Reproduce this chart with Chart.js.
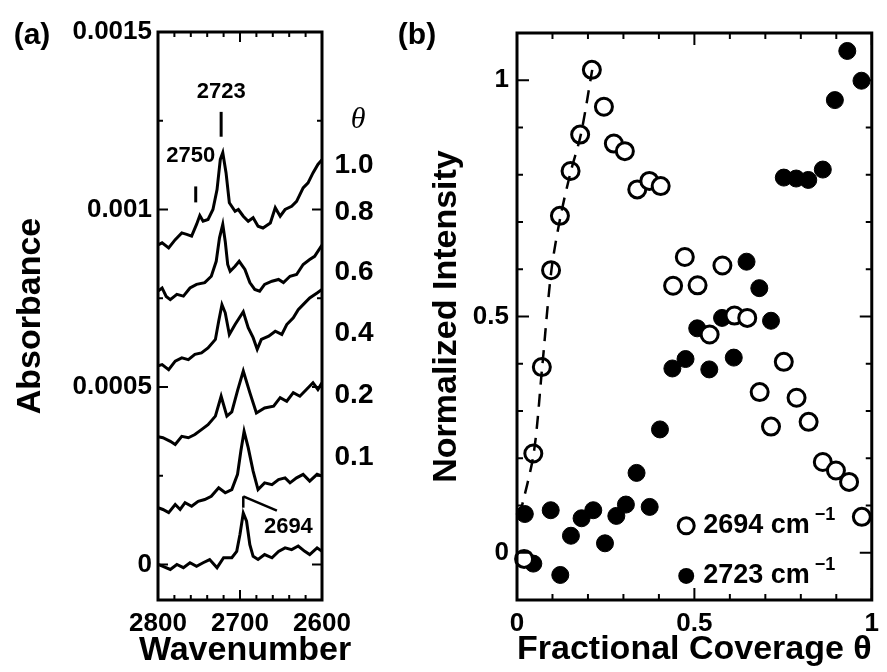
<!DOCTYPE html>
<html>
<head>
<meta charset="utf-8">
<script src="https://cdn.jsdelivr.net/npm/chart.js@4.4.0/dist/chart.umd.min.js"></script>
<style>
  html, body { margin: 0; padding: 0; background: #fff; }
  #wrap { position: relative; width: 887px; height: 672px; overflow: hidden; }
  canvas { position: absolute; top: 0; }
  #chartA { left: 0; }
  #chartB { left: 390px; }
</style>
</head>
<body>
<div id="wrap">
  <canvas id="chartA" width="400" height="672"></canvas>
  <canvas id="chartB" width="497" height="672"></canvas>
</div>
<script>
const FONT = "'Liberation Sans', Arial, sans-serif";

// (a) spectra: [wavenumber, absorbance in units of 1e-4]
const trace10 = [[2800, 9.0], [2795, 9.06], [2787, 8.92], [2779, 9.15], [2771, 9.34], [2765, 9.3], [2759, 9.25], [2753, 9.58], [2749, 9.83], [2745, 9.67], [2739, 9.72], [2733, 10.0], [2728, 10.56], [2724, 11.41], [2721, 11.6], [2717, 11.03], [2713, 10.19], [2706, 9.95], [2702, 10.0], [2696, 9.81], [2690, 9.67], [2684, 9.77], [2678, 9.53], [2672, 9.48], [2663, 9.62], [2657, 10.05], [2651, 9.81], [2645, 10.0], [2637, 10.09], [2631, 10.23], [2623, 10.61], [2617, 10.75], [2611, 11.03], [2605, 11.27], [2600, 11.4]];
const trace08 = [[2800, 7.7], [2795, 7.79], [2790, 7.55], [2785, 7.46], [2777, 7.61], [2769, 7.56], [2761, 7.79], [2753, 7.89], [2743, 7.94], [2735, 8.12], [2729, 8.54], [2725, 9.2], [2721, 9.58], [2718, 9.1], [2715, 8.45], [2712, 8.26], [2706, 8.4], [2701, 8.54], [2694, 8.31], [2688, 7.94], [2682, 7.75], [2676, 7.7], [2670, 7.89], [2661, 7.98], [2653, 8.03], [2647, 7.94], [2639, 8.12], [2631, 8.17], [2623, 8.45], [2615, 8.59], [2609, 8.68], [2600, 9.0]];
const trace06 = [[2800, 5.6], [2795, 5.63], [2787, 5.49], [2779, 5.73], [2771, 5.82], [2763, 5.77], [2755, 5.92], [2747, 5.96], [2739, 6.1], [2730, 6.34], [2726, 6.85], [2722, 7.32], [2718, 7.09], [2713, 6.48], [2706, 6.76], [2696, 7.12], [2690, 6.67], [2684, 6.39], [2679, 6.06], [2674, 6.34], [2665, 6.43], [2657, 6.57], [2649, 6.48], [2643, 6.76], [2635, 6.95], [2629, 7.18], [2623, 7.32], [2615, 7.51], [2606, 7.65], [2600, 7.75]];
const trace04 = [[2800, 3.6], [2794, 3.57], [2785, 3.47], [2779, 3.38], [2771, 3.61], [2763, 3.57], [2755, 3.66], [2747, 3.8], [2739, 3.94], [2730, 4.18], [2723, 4.74], [2716, 4.18], [2710, 4.3], [2703, 4.9], [2696, 5.45], [2688, 4.84], [2680, 4.27], [2670, 4.41], [2659, 4.46], [2651, 4.7], [2643, 4.6], [2635, 4.84], [2627, 4.74], [2619, 4.93], [2611, 5.12], [2605, 4.93], [2600, 5.12]];
const trace02 = [[2800, 1.6], [2794, 1.55], [2787, 1.46], [2779, 1.69], [2773, 1.55], [2767, 1.74], [2759, 1.64], [2751, 1.78], [2743, 1.83], [2735, 1.92], [2726, 2.16], [2718, 2.02], [2710, 2.11], [2703, 2.54], [2699, 3.19], [2695, 3.75], [2690, 3.29], [2684, 2.63], [2678, 2.11], [2670, 2.3], [2661, 2.25], [2653, 2.39], [2645, 2.44], [2639, 2.3], [2631, 2.44], [2623, 2.54], [2615, 2.35], [2606, 2.54], [2600, 2.49]];
const trace01 = [[2800, 0.0], [2794, -0.05], [2785, -0.14], [2777, 0.0], [2769, -0.09], [2761, 0.05], [2753, -0.05], [2745, 0.05], [2737, 0.14], [2728, -0.09], [2720, 0.19], [2710, 0.19], [2704, 0.37], [2700, 0.85], [2696, 1.45], [2692, 1.22], [2688, 0.56], [2684, 0.23], [2678, 0.14], [2670, 0.28], [2661, 0.19], [2653, 0.37], [2645, 0.47], [2637, 0.42], [2629, 0.52], [2621, 0.37], [2615, 0.28], [2606, 0.47], [2600, 0.37]];
const coverageLabels = ["1.0", "0.8", "0.6", "0.4", "0.2", "0.1"];

const wnTickValues = [2600, 2620, 2640, 2660, 2680, 2700, 2720, 2740, 2760, 2780, 2800];
const wnTickLabels = { 2600: "2600", 2700: "2700", 2800: "2800" };
const absTickValues = [0, 2.5, 5, 7.5, 10, 12.5, 15];
const absTickLabels = { 0: "0", 5: "0.0005", 10: "0.001", 15: "0.0015" };

// (b) normalized intensity vs coverage
const coverage2694 = [0.02, 0.046, 0.07, 0.096, 0.121, 0.151, 0.178, 0.211, 0.245, 0.273, 0.304, 0.339, 0.373, 0.405, 0.44, 0.473, 0.509, 0.543, 0.579, 0.613, 0.649, 0.684, 0.716, 0.752, 0.788, 0.822, 0.862, 0.899, 0.936, 0.972];
const intensity2694 = [-0.013, 0.21, 0.393, 0.598, 0.713, 0.808, 0.885, 1.022, 0.944, 0.866, 0.85, 0.769, 0.787, 0.776, 0.565, 0.626, 0.566, 0.462, 0.608, 0.502, 0.497, 0.34, 0.267, 0.404, 0.328, 0.277, 0.192, 0.174, 0.15, 0.076];
const coverage2723 = [0.022, 0.046, 0.095, 0.122, 0.152, 0.182, 0.215, 0.248, 0.28, 0.307, 0.337, 0.374, 0.403, 0.438, 0.475, 0.508, 0.542, 0.578, 0.611, 0.647, 0.683, 0.716, 0.752, 0.787, 0.821, 0.862, 0.896, 0.931, 0.971];
const intensity2723 = [0.082, -0.023, 0.09, -0.047, 0.036, 0.073, 0.09, 0.02, 0.078, 0.102, 0.169, 0.097, 0.261, 0.39, 0.41, 0.475, 0.388, 0.497, 0.413, 0.616, 0.56, 0.491, 0.794, 0.792, 0.789, 0.811, 0.958, 1.062, 0.999];
const guideCoverage = [0.008, 0.047, 0.071, 0.097, 0.123, 0.152, 0.18, 0.212];
const guideIntensity = [0.08, 0.21, 0.393, 0.598, 0.713, 0.808, 0.885, 1.022];
const legendLabels = ["2694 cm", "2723 cm"];

const thetaTickValues = [0, 0.1, 0.2, 0.3, 0.4, 0.5, 0.6, 0.7, 0.8, 0.9, 1];
const thetaTickLabels = { 0: "0", 0.5: "0.5", 1: "1" };
const intensityTickValues = [0, 0.1, 0.2, 0.3, 0.4, 0.5, 0.6, 0.7, 0.8, 0.9, 1];
const intensityTickLabels = { 0: "0", 0.5: "0.5", 1: "1" };

// inward tick marks on all four sides plus the heavy frame
const frameTicks = {
  id: "frameTicks",
  afterDatasetsDraw(chart, args, opts) {
    const { ctx, chartArea: a, scales } = chart;
    const line = (x1, y1, x2, y2) => { ctx.beginPath(); ctx.moveTo(x1, y1); ctx.lineTo(x2, y2); ctx.stroke(); };
    ctx.save();
    ctx.strokeStyle = "#000";
    ctx.lineWidth = 2;
    scales.x.ticks.forEach(t => {
      const px = scales.x.getPixelForValue(t.value);
      const len = opts.xMajor.includes(t.value) ? opts.major : opts.minor;
      line(px, a.bottom, px, a.bottom - len);
      line(px, a.top, px, a.top + len);
    });
    scales.y.ticks.forEach(t => {
      const py = scales.y.getPixelForValue(t.value);
      const len = opts.yMajor.includes(t.value) ? opts.major : opts.minor;
      line(a.left, py, a.left + len, py);
      line(a.right, py, a.right - len, py);
    });
    ctx.lineWidth = 3;
    ctx.strokeRect(a.left, a.top, a.right - a.left, a.bottom - a.top);
    ctx.restore();
  }
};

const spectraNotes = {
  id: "spectraNotes",
  afterDraw(chart) {
    const { ctx, chartArea: a, scales: { x, y } } = chart;
    const seg = (w1, v1, w2, v2) => {
      ctx.beginPath();
      ctx.moveTo(x.getPixelForValue(w1), y.getPixelForValue(v1));
      ctx.lineTo(x.getPixelForValue(w2), y.getPixelForValue(v2));
      ctx.stroke();
    };
    ctx.save();
    ctx.fillStyle = "#000";
    ctx.strokeStyle = "#000";
    ctx.textAlign = "center";
    ctx.textBaseline = "middle";
    ctx.font = "bold 30px " + FONT;
    ctx.fillText("(a)", 32, 36);
    // x axis title drawn here so it is not squeezed to the narrow plot width
    ctx.font = "bold 34px " + FONT;
    ctx.fillText("Wavenumber", (a.left + a.right) / 2 + 5, 651);
    ctx.font = "bold 22px " + FONT;
    ctx.fillText("2723", x.getPixelForValue(2723), y.getPixelForValue(13.3));
    ctx.fillText("2750", x.getPixelForValue(2760), y.getPixelForValue(11.5));
    ctx.fillText("2694", x.getPixelForValue(2641), y.getPixelForValue(1.07));
    ctx.lineWidth = 3;
    seg(2723, 12.75, 2723, 12.05);
    seg(2754, 10.65, 2754, 10.2);
    ctx.lineWidth = 2.5;
    seg(2696, 1.92, 2655, 1.52);
    seg(2696, 1.92, 2696, 1.6);

    ctx.font = "italic 30px 'Liberation Serif', serif";
    ctx.fillText("θ", a.right + 36, 120);
    ctx.font = "bold 28px " + FONT;
    const rowY = [165, 212, 272, 333, 395, 457];
    coverageLabels.forEach((t, i) => ctx.fillText(t, a.right + 32, rowY[i]));
    ctx.restore();
  }
};

const coverageNotes = {
  id: "coverageNotes",
  afterDraw(chart) {
    const { ctx, scales: { x, y } } = chart;
    ctx.save();
    ctx.fillStyle = "#000";
    ctx.strokeStyle = "#000";
    ctx.textBaseline = "middle";
    ctx.textAlign = "center";
    ctx.font = "bold 30px " + FONT;
    ctx.fillText("(b)", 27, 36);

    const rows = [0.057, -0.049];
    rows.forEach((v, i) => {
      const px = x.getPixelForValue(0.477);
      const py = y.getPixelForValue(v);
      ctx.beginPath();
      ctx.arc(px, py, 8, 0, Math.PI * 2);
      if (i === 0) { ctx.lineWidth = 3; ctx.stroke(); } else { ctx.fill(); }
      ctx.textAlign = "left";
      ctx.font = "bold 27px " + FONT;
      ctx.fillText(legendLabels[i], px + 17, py);
      const w = ctx.measureText(legendLabels[i]).width;
      ctx.font = "bold 18px " + FONT;
      ctx.fillText("\u22121", px + 22 + w, py - 11);
    });
    ctx.restore();
  }
};

const tickFont = { family: FONT, size: 26, weight: "bold" };
const titleFont = { family: FONT, size: 34, weight: "bold" };

new Chart(document.getElementById("chartA"), {
  type: "line",
  data: {
    datasets: [trace10, trace08, trace06, trace04, trace02, trace01].map(tr => ({
      data: tr.map(([w, v]) => ({ x: w, y: v })),
      borderColor: "#000",
      borderWidth: 3,
      pointRadius: 0,
      tension: 0,
      fill: false
    }))
  },
  options: {
    responsive: false,
    animation: false,
    devicePixelRatio: 1,
    layout: { padding: { top: 32, right: 78, left: 0, bottom: 0 } },
    plugins: {
      legend: { display: false },
      tooltip: { enabled: false },
      frameTicks: { xMajor: [2600, 2700, 2800], yMajor: [0, 5, 10, 15], major: 10, minor: 5 }
    },
    scales: {
      x: {
        type: "linear",
        min: 2600,
        max: 2800,
        reverse: true,
        afterBuildTicks: s => { s.ticks = wnTickValues.map(v => ({ value: v })); },
        afterFit: s => { s.height = 72; },
        grid: { display: false, drawTicks: false },
        border: { display: false },
        ticks: {
          autoSkip: false,
          maxRotation: 0,
          padding: 8,
          color: "#000",
          font: tickFont,
          callback: v => wnTickLabels[v] || ""
        },
        title: { display: false }
      },
      y: {
        min: -1,
        max: 15,
        afterBuildTicks: s => { s.ticks = absTickValues.map(v => ({ value: v })); },
        afterFit: s => { s.width = 158; },
        grid: { display: false, drawTicks: false },
        border: { display: false },
        ticks: {
          autoSkip: false,
          padding: 6,
          color: "#000",
          font: tickFont,
          callback: v => absTickLabels[v] || ""
        },
        title: { display: true, text: "Absorbance", color: "#000", font: titleFont, padding: { top: 10, bottom: 0 } }
      }
    }
  },
  plugins: [frameTicks, spectraNotes]
});

new Chart(document.getElementById("chartB"), {
  type: "scatter",
  data: {
    datasets: [
      {
        label: "2723 cm-1",
        data: coverage2723.map((c, i) => ({ x: c, y: intensity2723[i] })),
        pointRadius: 8.5,
        pointBackgroundColor: "#000",
        pointBorderColor: "#000",
        pointBorderWidth: 1,
        clip: false,
        order: 3
      },
      {
        label: "2694 cm-1",
        data: coverage2694.map((c, i) => ({ x: c, y: intensity2694[i] })),
        pointRadius: 8.5,
        pointBackgroundColor: "#fff",
        pointBorderColor: "#000",
        pointBorderWidth: 3,
        clip: false,
        order: 2
      },
      {
        label: "guide",
        data: guideCoverage.map((c, i) => ({ x: c, y: guideIntensity[i] })),
        showLine: true,
        borderColor: "#000",
        borderWidth: 2.5,
        borderDash: [13, 9],
        pointRadius: 0,
        tension: 0.3,
        order: 1
      }
    ]
  },
  options: {
    responsive: false,
    animation: false,
    devicePixelRatio: 1,
    layout: { padding: { top: 33, right: 7, left: 0, bottom: 0 } },
    plugins: {
      legend: { display: false },
      tooltip: { enabled: false },
      frameTicks: { xMajor: [0, 0.5, 1], yMajor: [0, 0.5, 1], major: 12, minor: 6 }
    },
    scales: {
      x: {
        type: "linear",
        min: 0,
        max: 1,
        afterBuildTicks: s => { s.ticks = thetaTickValues.map(v => ({ value: v })); },
        afterFit: s => { s.height = 72; },
        grid: { display: false, drawTicks: false },
        border: { display: false },
        ticks: {
          autoSkip: false,
          maxRotation: 0,
          padding: 8,
          color: "#000",
          font: tickFont,
          callback: v => thetaTickLabels[v] || ""
        },
        title: { display: true, text: "Fractional Coverage θ", color: "#000", font: titleFont, padding: { top: 0, bottom: 2 } }
      },
      y: {
        min: -0.1,
        max: 1.1,
        afterBuildTicks: s => { s.ticks = intensityTickValues.map(v => ({ value: v })); },
        afterFit: s => { s.width = 127; },
        grid: { display: false, drawTicks: false },
        border: { display: false },
        ticks: {
          autoSkip: false,
          padding: 8,
          color: "#000",
          font: tickFont,
          callback: v => intensityTickLabels[v] || ""
        },
        title: { display: true, text: "Normalized Intensity", color: "#000", font: titleFont, padding: { top: 36, bottom: 0 } }
      }
    }
  },
  plugins: [frameTicks, coverageNotes]
});
</script>
</body>
</html>
